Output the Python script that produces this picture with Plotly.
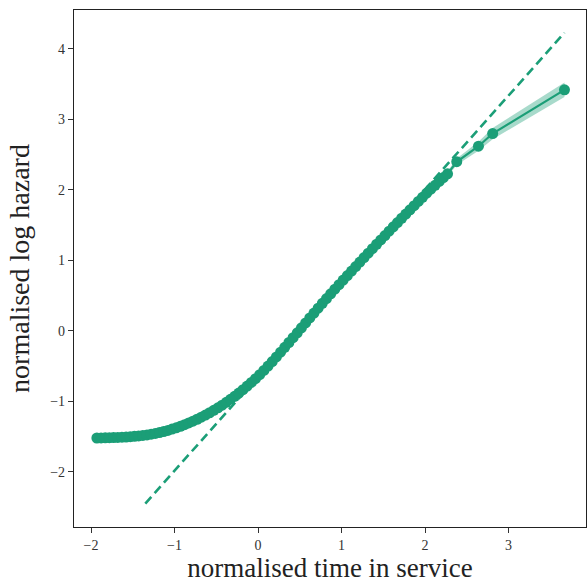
import plotly.graph_objects as go

GREEN = "#1b9e77"
BAND = "rgba(27,158,119,0.38)"
FONT = "Liberation Serif"

# normalised time in service vs. normalised log hazard (fitted points)
time_norm = [
    -1.93, -1.88, -1.83, -1.78, -1.73, -1.68, -1.63, -1.58, -1.53, -1.48,
    -1.43, -1.38, -1.33, -1.28, -1.23, -1.18, -1.13, -1.08, -1.03, -0.98,
    -0.93, -0.88, -0.83, -0.78, -0.73, -0.68, -0.63, -0.58, -0.53, -0.48,
    -0.43, -0.38, -0.33, -0.28, -0.23, -0.18, -0.13, -0.08, -0.03, 0.02,
    0.07, 0.12, 0.17, 0.22, 0.27, 0.32, 0.37, 0.42, 0.47, 0.52,
    0.57, 0.62, 0.67, 0.72, 0.77, 0.82, 0.87, 0.92, 0.97, 1.02,
    1.07, 1.12, 1.17, 1.22, 1.27, 1.32, 1.37, 1.42, 1.47, 1.52,
    1.57, 1.62, 1.67, 1.72, 1.77, 1.82, 1.87, 1.92, 1.97, 2.02,
    2.07, 2.12, 2.17, 2.22, 2.27, 2.38, 2.64, 2.81, 3.67,
]
log_hazard = [
    -1.520, -1.519, -1.518, -1.516, -1.514, -1.512, -1.509, -1.506, -1.502, -1.497,
    -1.491, -1.484, -1.476, -1.466, -1.455, -1.442, -1.428, -1.412, -1.394, -1.375,
    -1.354, -1.331, -1.307, -1.281, -1.254, -1.225, -1.194, -1.162, -1.128, -1.092,
    -1.054, -1.014, -0.972, -0.928, -0.882, -0.834, -0.784, -0.732, -0.678, -0.622,
    -0.562, -0.500, -0.436, -0.370, -0.302, -0.234, -0.165, -0.096, -0.027, 0.043,
    0.113, 0.183, 0.253, 0.322, 0.391, 0.458, 0.525, 0.591, 0.656, 0.721,
    0.785, 0.849, 0.913, 0.977, 1.040, 1.103, 1.166, 1.229, 1.291, 1.353,
    1.415, 1.476, 1.537, 1.598, 1.658, 1.718, 1.777, 1.836, 1.895, 1.953,
    2.010, 2.066, 2.121, 2.175, 2.228, 2.400, 2.620, 2.800, 3.420,
]

# confidence band of the fit over the sparse upper tail
ci_time = [1.97, 2.12, 2.27, 2.38, 2.64, 2.81, 3.67]
ci_lower = [1.870, 2.036, 2.190, 2.355, 2.555, 2.720, 3.318]
ci_upper = [1.920, 2.096, 2.266, 2.445, 2.685, 2.880, 3.525]

# reference line of slope one in log-hazard units
ref_time = [-1.35, 3.67]
ref_hazard = [-2.45, 4.23]

fig = go.Figure()

fig.add_trace(go.Scatter(
    x=ci_time + ci_time[::-1],
    y=ci_upper + ci_lower[::-1],
    fill="toself", fillcolor=BAND, line=dict(width=0),
    mode="lines", hoverinfo="skip", showlegend=False,
))

fig.add_trace(go.Scatter(
    x=ref_time, y=ref_hazard, mode="lines",
    line=dict(color=GREEN, width=2.6, dash="9px,5px"),
    showlegend=False,
))

fig.add_trace(go.Scatter(
    x=time_norm, y=log_hazard, mode="lines+markers",
    line=dict(color=GREEN, width=2.2),
    marker=dict(color=GREEN, size=11, line=dict(width=0)),
    showlegend=False,
))

axis_common = dict(
    showline=True, mirror=True, linecolor="#222", linewidth=1.3,
    ticks="outside", ticklen=5, tickwidth=1.3, tickcolor="#333",
    showgrid=False, zeroline=False,
    tickfont=dict(family=FONT, size=14, color="#333"),
)

fig.update_layout(
    width=587, height=583,
    margin=dict(l=74, r=1, t=10, b=56),
    plot_bgcolor="white", paper_bgcolor="white",
    xaxis=dict(
        range=[-2.204, 3.928], tickvals=[-2, -1, 0, 1, 2, 3],
        title=dict(text="normalised time in service",
                   font=dict(family=FONT, size=27, color="#222"), standoff=7),
        **axis_common,
    ),
    yaxis=dict(
        range=[-2.783, 4.553], tickvals=[-2, -1, 0, 1, 2, 3, 4],
        title=dict(text="normalised log hazard",
                   font=dict(family=FONT, size=28, color="#222"), standoff=12),
        **axis_common,
    ),
)

fig.write_html("out.html")
